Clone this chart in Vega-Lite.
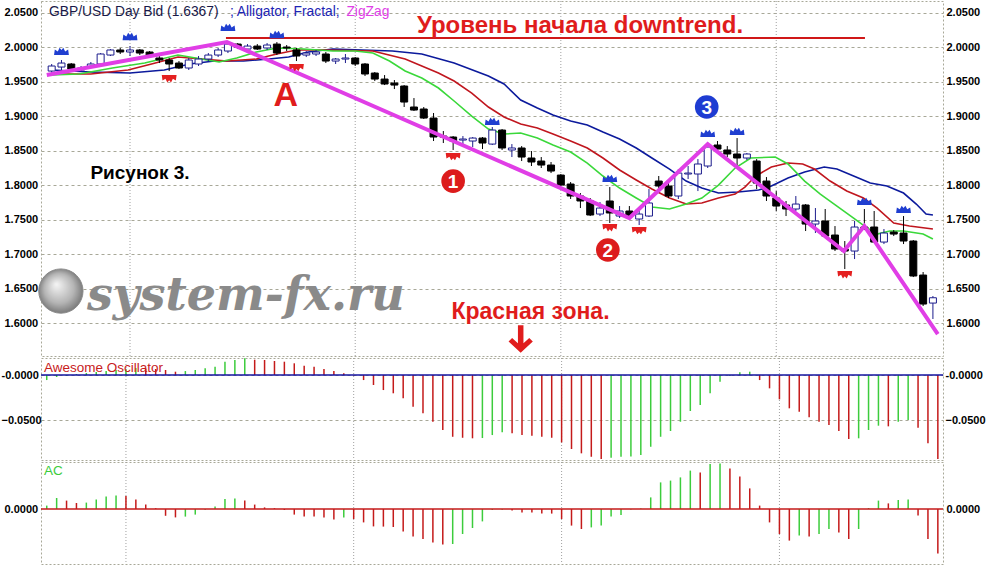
{
"$schema":"https://vega.github.io/schema/vega-lite/v6.json",
"padding":{"left":0,"top":0,"right":0,"bottom":0},
"background":"#ffffff",
"spacing":0,
"resolve":{"scale":{"color":"independent"}},
"config":{"view":{"stroke":"#a8a898","strokeDash":[2,2]},"font":"Liberation Sans","axis":{"labelFont":"Liberation Sans","labelFontWeight":"bold","labelFontSize":11,"labelColor":"#000000","ticks":false,"tickSize":0,"domain":false,"gridColor":"#a8a898","gridDash":[3,3],"title":null}},
"datasets":{
"months":[{"i":8},{"i":31},{"i":52},{"i":74}],
"candles":[
{"i":0,"o":1.9652,"h":1.9754,"l":1.9623,"c":1.9725},
{"i":1,"o":1.9710,"h":1.9812,"l":1.9652,"c":1.9768},
{"i":2,"o":1.9754,"h":1.9768,"l":1.9667,"c":1.9681},
{"i":3,"o":1.9667,"h":1.9725,"l":1.9638,"c":1.9696},
{"i":4,"o":1.9710,"h":1.9783,"l":1.9696,"c":1.9754},
{"i":5,"o":1.9754,"h":1.9913,"l":1.9739,"c":1.9899},
{"i":6,"o":1.9884,"h":1.9971,"l":1.9870,"c":1.9957},
{"i":7,"o":1.9957,"h":1.9986,"l":1.9899,"c":1.9928},
{"i":8,"o":1.9928,"h":2.0014,"l":1.9870,"c":1.9957},
{"i":9,"o":1.9957,"h":1.9971,"l":1.9884,"c":1.9913},
{"i":10,"o":1.9928,"h":1.9942,"l":1.9841,"c":1.9870},
{"i":11,"o":1.9841,"h":1.9870,"l":1.9768,"c":1.9812},
{"i":12,"o":1.9812,"h":1.9841,"l":1.9652,"c":1.9754},
{"i":13,"o":1.9768,"h":1.9797,"l":1.9681,"c":1.9696},
{"i":14,"o":1.9696,"h":1.9841,"l":1.9667,"c":1.9812},
{"i":15,"o":1.9754,"h":1.9870,"l":1.9725,"c":1.9826},
{"i":16,"o":1.9826,"h":1.9913,"l":1.9797,"c":1.9884},
{"i":17,"o":1.9884,"h":1.9986,"l":1.9855,"c":1.9957},
{"i":18,"o":1.9942,"h":2.0072,"l":1.9913,"c":2.0043},
{"i":19,"o":2.0043,"h":2.0058,"l":1.9971,"c":2.0000},
{"i":20,"o":1.9971,"h":2.0043,"l":1.9942,"c":2.0014},
{"i":21,"o":2.0014,"h":2.0043,"l":1.9957,"c":1.9971},
{"i":22,"o":1.9986,"h":2.0058,"l":1.9957,"c":2.0029},
{"i":23,"o":2.0043,"h":2.0072,"l":1.9884,"c":1.9913},
{"i":24,"o":2.0000,"h":2.0029,"l":1.9942,"c":1.9986},
{"i":25,"o":1.9957,"h":1.9986,"l":1.9797,"c":1.9870},
{"i":26,"o":1.9884,"h":1.9942,"l":1.9855,"c":1.9913},
{"i":27,"o":1.9899,"h":1.9957,"l":1.9870,"c":1.9928},
{"i":28,"o":1.9899,"h":1.9928,"l":1.9768,"c":1.9797},
{"i":29,"o":1.9797,"h":1.9841,"l":1.9754,"c":1.9826},
{"i":30,"o":1.9826,"h":1.9899,"l":1.9768,"c":1.9841},
{"i":31,"o":1.9841,"h":1.9855,"l":1.9725,"c":1.9754},
{"i":32,"o":1.9754,"h":1.9768,"l":1.9580,"c":1.9609},
{"i":33,"o":1.9623,"h":1.9638,"l":1.9507,"c":1.9536},
{"i":34,"o":1.9536,"h":1.9594,"l":1.9449,"c":1.9464},
{"i":35,"o":1.9478,"h":1.9522,"l":1.9391,"c":1.9449},
{"i":36,"o":1.9435,"h":1.9449,"l":1.9131,"c":1.9203},
{"i":37,"o":1.9131,"h":1.9261,"l":1.9073,"c":1.9087},
{"i":38,"o":1.9102,"h":1.9131,"l":1.8957,"c":1.8971},
{"i":39,"o":1.8971,"h":1.9044,"l":1.8638,"c":1.8696},
{"i":40,"o":1.8710,"h":1.8783,"l":1.8609,"c":1.8696},
{"i":41,"o":1.8696,"h":1.8710,"l":1.8508,"c":1.8638},
{"i":42,"o":1.8652,"h":1.8710,"l":1.8594,"c":1.8667},
{"i":43,"o":1.8638,"h":1.8696,"l":1.8551,"c":1.8681},
{"i":44,"o":1.8681,"h":1.8696,"l":1.8522,"c":1.8609},
{"i":45,"o":1.8594,"h":1.8841,"l":1.8580,"c":1.8797},
{"i":46,"o":1.8797,"h":1.8812,"l":1.8508,"c":1.8537},
{"i":47,"o":1.8508,"h":1.8594,"l":1.8406,"c":1.8537},
{"i":48,"o":1.8537,"h":1.8565,"l":1.8348,"c":1.8406},
{"i":49,"o":1.8392,"h":1.8493,"l":1.8276,"c":1.8334},
{"i":50,"o":1.8348,"h":1.8406,"l":1.8247,"c":1.8290},
{"i":51,"o":1.8290,"h":1.8334,"l":1.8174,"c":1.8203},
{"i":52,"o":1.8145,"h":1.8160,"l":1.7986,"c":1.8000},
{"i":53,"o":1.8015,"h":1.8044,"l":1.7798,"c":1.7841},
{"i":54,"o":1.7841,"h":1.7884,"l":1.7667,"c":1.7769},
{"i":55,"o":1.7769,"h":1.7812,"l":1.7551,"c":1.7566},
{"i":56,"o":1.7580,"h":1.7754,"l":1.7551,"c":1.7667},
{"i":57,"o":1.7769,"h":1.7971,"l":1.7450,"c":1.7595},
{"i":58,"o":1.7551,"h":1.7696,"l":1.7522,"c":1.7624},
{"i":59,"o":1.7624,"h":1.7696,"l":1.7508,"c":1.7551},
{"i":60,"o":1.7508,"h":1.7624,"l":1.7421,"c":1.7580},
{"i":61,"o":1.7551,"h":1.7942,"l":1.7537,"c":1.7740},
{"i":62,"o":1.8058,"h":1.8131,"l":1.7884,"c":1.7986},
{"i":63,"o":1.7986,"h":1.8058,"l":1.7812,"c":1.7841},
{"i":64,"o":1.7841,"h":1.8232,"l":1.7798,"c":1.8174},
{"i":65,"o":1.8160,"h":1.8276,"l":1.8087,"c":1.8174},
{"i":66,"o":1.8160,"h":1.8377,"l":1.7913,"c":1.8305},
{"i":67,"o":1.8276,"h":1.8594,"l":1.8247,"c":1.8551},
{"i":68,"o":1.8580,"h":1.8638,"l":1.8464,"c":1.8522},
{"i":69,"o":1.8508,"h":1.8565,"l":1.8406,"c":1.8450},
{"i":70,"o":1.8450,"h":1.8681,"l":1.8276,"c":1.8392},
{"i":71,"o":1.8392,"h":1.8464,"l":1.8363,"c":1.8450},
{"i":72,"o":1.8348,"h":1.8377,"l":1.7942,"c":1.8029},
{"i":73,"o":1.8058,"h":1.8116,"l":1.7769,"c":1.7841},
{"i":74,"o":1.7812,"h":1.7913,"l":1.7624,"c":1.7696},
{"i":75,"o":1.7711,"h":1.7769,"l":1.7551,"c":1.7653},
{"i":76,"o":1.7653,"h":1.7841,"l":1.7624,"c":1.7725},
{"i":77,"o":1.7711,"h":1.7725,"l":1.7334,"c":1.7435},
{"i":78,"o":1.7435,"h":1.7667,"l":1.7305,"c":1.7479},
{"i":79,"o":1.7479,"h":1.7653,"l":1.7232,"c":1.7261},
{"i":80,"o":1.7276,"h":1.7406,"l":1.7044,"c":1.7073},
{"i":81,"o":1.7073,"h":1.7189,"l":1.6783,"c":1.7044},
{"i":82,"o":1.7044,"h":1.7479,"l":1.6928,"c":1.7392},
{"i":83,"o":1.7392,"h":1.7653,"l":1.7348,"c":1.7377},
{"i":84,"o":1.7392,"h":1.7624,"l":1.7160,"c":1.7174},
{"i":85,"o":1.7174,"h":1.7363,"l":1.7145,"c":1.7305},
{"i":86,"o":1.7319,"h":1.7348,"l":1.7261,"c":1.7290},
{"i":87,"o":1.7305,"h":1.7551,"l":1.7145,"c":1.7189},
{"i":88,"o":1.7189,"h":1.7203,"l":1.6667,"c":1.6682},
{"i":89,"o":1.6696,"h":1.6740,"l":1.6247,"c":1.6276},
{"i":90,"o":1.6290,"h":1.6392,"l":1.6059,"c":1.6367}
],
"gator":[
{"line":"jaw","i":0,"p":1.9667},{"line":"jaw","i":4,"p":1.9638},{"line":"jaw","i":8,"p":1.9623},{"line":"jaw","i":11.5,"p":1.9667},{"line":"jaw","i":14.1,"p":1.9754},{"line":"jaw","i":16.6,"p":1.9797},{"line":"jaw","i":19.6,"p":1.9797},{"line":"jaw","i":22.2,"p":1.9826},{"line":"jaw","i":24.2,"p":1.9855},{"line":"jaw","i":26.2,"p":1.9928},{"line":"jaw","i":28.7,"p":1.9971},{"line":"jaw","i":31.7,"p":1.9957},{"line":"jaw","i":34.8,"p":1.9942},{"line":"jaw","i":37.8,"p":1.9899},{"line":"jaw","i":41.1,"p":1.9768},{"line":"jaw","i":44.6,"p":1.9580},{"line":"jaw","i":46.2,"p":1.9464},{"line":"jaw","i":47.9,"p":1.9232},{"line":"jaw","i":49.6,"p":1.9116},{"line":"jaw","i":51.2,"p":1.9015},{"line":"jaw","i":53.0,"p":1.8928},{"line":"jaw","i":54.7,"p":1.8870},{"line":"jaw","i":56.3,"p":1.8768},{"line":"jaw","i":58.0,"p":1.8667},{"line":"jaw","i":59.7,"p":1.8537},{"line":"jaw","i":61.3,"p":1.8392},{"line":"jaw","i":63.1,"p":1.8232},{"line":"jaw","i":64.8,"p":1.8058},{"line":"jaw","i":66.4,"p":1.7957},{"line":"jaw","i":68.1,"p":1.7884},{"line":"jaw","i":70.1,"p":1.7899},{"line":"jaw","i":72.2,"p":1.7928},{"line":"jaw","i":73.5,"p":1.7986},{"line":"jaw","i":75.2,"p":1.8102},{"line":"jaw","i":76.9,"p":1.8189},{"line":"jaw","i":78.9,"p":1.8261},{"line":"jaw","i":80.2,"p":1.8232},{"line":"jaw","i":81.9,"p":1.8131},{"line":"jaw","i":83.6,"p":1.8029},{"line":"jaw","i":85.3,"p":1.7986},{"line":"jaw","i":87.0,"p":1.7884},{"line":"jaw","i":88.3,"p":1.7725},{"line":"jaw","i":89.3,"p":1.7580},{"line":"jaw","i":90.0,"p":1.7566},
{"line":"teeth","i":0,"p":1.9609},{"line":"teeth","i":4,"p":1.9609},{"line":"teeth","i":7.8,"p":1.9667},{"line":"teeth","i":10.2,"p":1.9754},{"line":"teeth","i":12.9,"p":1.9855},{"line":"teeth","i":15.3,"p":1.9826},{"line":"teeth","i":17.9,"p":1.9797},{"line":"teeth","i":20.9,"p":1.9826},{"line":"teeth","i":23.0,"p":1.9899},{"line":"teeth","i":25.0,"p":1.9957},{"line":"teeth","i":27.7,"p":1.9957},{"line":"teeth","i":32.8,"p":1.9942},{"line":"teeth","i":36.1,"p":1.9826},{"line":"teeth","i":37.8,"p":1.9725},{"line":"teeth","i":39.5,"p":1.9623},{"line":"teeth","i":41.1,"p":1.9507},{"line":"teeth","i":42.9,"p":1.9333},{"line":"teeth","i":44.6,"p":1.9131},{"line":"teeth","i":46.2,"p":1.8986},{"line":"teeth","i":47.9,"p":1.8884},{"line":"teeth","i":49.6,"p":1.8826},{"line":"teeth","i":51.2,"p":1.8739},{"line":"teeth","i":53.0,"p":1.8638},{"line":"teeth","i":54.7,"p":1.8537},{"line":"teeth","i":56.3,"p":1.8392},{"line":"teeth","i":58.0,"p":1.8218},{"line":"teeth","i":59.7,"p":1.8073},{"line":"teeth","i":61.3,"p":1.7942},{"line":"teeth","i":63.1,"p":1.7812},{"line":"teeth","i":64.8,"p":1.7725},{"line":"teeth","i":66.4,"p":1.7740},{"line":"teeth","i":68.1,"p":1.7812},{"line":"teeth","i":69.8,"p":1.7870},{"line":"teeth","i":70.8,"p":1.7971},{"line":"teeth","i":71.9,"p":1.8131},{"line":"teeth","i":73.5,"p":1.8261},{"line":"teeth","i":75.2,"p":1.8319},{"line":"teeth","i":76.7,"p":1.8305},{"line":"teeth","i":77.9,"p":1.8232},{"line":"teeth","i":79.5,"p":1.8058},{"line":"teeth","i":81.2,"p":1.7913},{"line":"teeth","i":82.9,"p":1.7812},{"line":"teeth","i":84.3,"p":1.7667},{"line":"teeth","i":86.0,"p":1.7450},{"line":"teeth","i":87.6,"p":1.7406},{"line":"teeth","i":90.0,"p":1.7363},
{"line":"lips","i":0,"p":1.9594},{"line":"lips","i":2.8,"p":1.9609},{"line":"lips","i":6.2,"p":1.9696},{"line":"lips","i":9.5,"p":1.9768},{"line":"lips","i":12.9,"p":1.9884},{"line":"lips","i":15.3,"p":1.9826},{"line":"lips","i":17.1,"p":1.9783},{"line":"lips","i":18.9,"p":1.9841},{"line":"lips","i":20.9,"p":1.9928},{"line":"lips","i":23.0,"p":1.9986},{"line":"lips","i":25.7,"p":1.9971},{"line":"lips","i":28.7,"p":1.9942},{"line":"lips","i":31.0,"p":1.9942},{"line":"lips","i":32.8,"p":1.9913},{"line":"lips","i":34.5,"p":1.9797},{"line":"lips","i":36.1,"p":1.9652},{"line":"lips","i":37.8,"p":1.9551},{"line":"lips","i":39.5,"p":1.9406},{"line":"lips","i":41.1,"p":1.9218},{"line":"lips","i":42.9,"p":1.9000},{"line":"lips","i":44.6,"p":1.8812},{"line":"lips","i":46.2,"p":1.8739},{"line":"lips","i":47.9,"p":1.8754},{"line":"lips","i":49.6,"p":1.8681},{"line":"lips","i":51.2,"p":1.8580},{"line":"lips","i":53.0,"p":1.8479},{"line":"lips","i":54.7,"p":1.8319},{"line":"lips","i":56.3,"p":1.8131},{"line":"lips","i":58.0,"p":1.7957},{"line":"lips","i":59.7,"p":1.7812},{"line":"lips","i":61.3,"p":1.7682},{"line":"lips","i":63.1,"p":1.7653},{"line":"lips","i":64.8,"p":1.7725},{"line":"lips","i":66.4,"p":1.7812},{"line":"lips","i":68.1,"p":1.8000},{"line":"lips","i":69.8,"p":1.8247},{"line":"lips","i":71.4,"p":1.8392},{"line":"lips","i":73.9,"p":1.8406},{"line":"lips","i":75.2,"p":1.8305},{"line":"lips","i":76.9,"p":1.8058},{"line":"lips","i":78.5,"p":1.7870},{"line":"lips","i":80.2,"p":1.7696},{"line":"lips","i":81.9,"p":1.7522},{"line":"lips","i":83.3,"p":1.7377},{"line":"lips","i":84.3,"p":1.7290},{"line":"lips","i":85.6,"p":1.7334},{"line":"lips","i":87.0,"p":1.7334},{"line":"lips","i":89.0,"p":1.7290},{"line":"lips","i":90.0,"p":1.7218}
],
"zigzag":[{"i":-0.5,"p":1.9594},{"i":17.9,"p":2.0072},{"i":59.0,"p":1.7522},{"i":67.0,"p":1.8594},{"i":80.9,"p":1.7044},{"i":83.0,"p":1.7406},{"i":90.5,"p":1.5841}],
"fractals":[
{"t":"up","i":1,"p":1.9942},{"t":"up","i":8,"p":2.0159},{"t":"up","i":18,"p":2.0290},{"t":"up","i":23,"p":2.0188},{"t":"up","i":45,"p":1.8928},{"t":"up","i":57,"p":1.8102},{"t":"up","i":67,"p":1.8754},{"t":"up","i":70,"p":1.8783},{"t":"up","i":83,"p":1.7769},{"t":"up","i":87,"p":1.7653},
{"t":"down","i":12,"p":1.9536},{"t":"down","i":25,"p":1.9696},{"t":"down","i":41,"p":1.8406},{"t":"down","i":57,"p":1.7377},{"t":"down","i":60,"p":1.7334},{"t":"down","i":81,"p":1.6696}
],
"badges":[{"n":"1","i":41.0,"p":1.8058},{"n":"2","i":56.8,"p":1.7059},{"n":"3","i":66.9,"p":1.9131}],
"ao":[
{"i":0,"v":-0.0056,"d":"up"},{"i":1,"v":-0.0022,"d":"up"},{"i":2,"v":-0.0011,"d":"up"},{"i":3,"v":0.0011,"d":"up"},{"i":4,"v":0.0022,"d":"up"},{"i":5,"v":0.0033,"d":"up"},{"i":6,"v":0.0044,"d":"up"},{"i":7,"v":0.0056,"d":"up"},{"i":8,"v":0.0067,"d":"up"},{"i":9,"v":0.0078,"d":"up"},
{"i":10,"v":0.0072,"d":"down"},{"i":11,"v":0.0067,"d":"down"},{"i":12,"v":0.0056,"d":"down"},{"i":13,"v":0.0037,"d":"down"},{"i":14,"v":0.0044,"d":"up"},{"i":15,"v":0.0056,"d":"up"},{"i":16,"v":0.0074,"d":"up"},{"i":17,"v":0.0092,"d":"up"},{"i":18,"v":0.0148,"d":"up"},{"i":19,"v":0.0167,"d":"up"},
{"i":20,"v":0.0186,"d":"up"},{"i":21,"v":0.0170,"d":"down"},{"i":22,"v":0.0167,"d":"down"},{"i":23,"v":0.0156,"d":"down"},{"i":24,"v":0.0148,"d":"down"},{"i":25,"v":0.0130,"d":"down"},{"i":26,"v":0.0103,"d":"down"},{"i":27,"v":0.0092,"d":"down"},{"i":28,"v":0.0067,"d":"down"},{"i":29,"v":0.0044,"d":"down"},
{"i":30,"v":0.0019,"d":"down"},{"i":31,"v":-0.0006,"d":"down"},{"i":32,"v":-0.0056,"d":"down"},{"i":33,"v":-0.0111,"d":"down"},{"i":34,"v":-0.0167,"d":"down"},{"i":35,"v":-0.0203,"d":"down"},{"i":36,"v":-0.0259,"d":"down"},{"i":37,"v":-0.0352,"d":"down"},{"i":38,"v":-0.0426,"d":"down"},{"i":39,"v":-0.0519,"d":"down"},
{"i":40,"v":-0.0611,"d":"down"},{"i":41,"v":-0.0686,"d":"down"},{"i":42,"v":-0.0697,"d":"down"},{"i":43,"v":-0.0703,"d":"down"},{"i":44,"v":-0.0700,"d":"up"},{"i":45,"v":-0.0667,"d":"up"},{"i":46,"v":-0.0637,"d":"up"},{"i":47,"v":-0.0648,"d":"down"},{"i":48,"v":-0.0667,"d":"down"},{"i":49,"v":-0.0674,"d":"down"},
{"i":50,"v":-0.0686,"d":"down"},{"i":51,"v":-0.0697,"d":"down"},{"i":52,"v":-0.0748,"d":"down"},{"i":53,"v":-0.0822,"d":"down"},{"i":54,"v":-0.0870,"d":"down"},{"i":55,"v":-0.0908,"d":"down"},{"i":56,"v":-0.0933,"d":"down"},{"i":57,"v":-0.0919,"d":"up"},{"i":58,"v":-0.0908,"d":"up"},{"i":59,"v":-0.0906,"d":"up"},
{"i":60,"v":-0.0889,"d":"up"},{"i":61,"v":-0.0797,"d":"up"},{"i":62,"v":-0.0686,"d":"up"},{"i":63,"v":-0.0622,"d":"up"},{"i":64,"v":-0.0519,"d":"up"},{"i":65,"v":-0.0400,"d":"up"},{"i":66,"v":-0.0333,"d":"up"},{"i":67,"v":-0.0203,"d":"up"},{"i":68,"v":-0.0074,"d":"up"},{"i":69,"v":-0.0011,"d":"up"},
{"i":70,"v":0.0030,"d":"up"},{"i":71,"v":0.0037,"d":"up"},{"i":72,"v":-0.0056,"d":"down"},{"i":73,"v":-0.0148,"d":"down"},{"i":74,"v":-0.0270,"d":"down"},{"i":75,"v":-0.0370,"d":"down"},{"i":76,"v":-0.0408,"d":"down"},{"i":77,"v":-0.0470,"d":"down"},{"i":78,"v":-0.0519,"d":"down"},{"i":79,"v":-0.0556,"d":"down"},
{"i":80,"v":-0.0622,"d":"down"},{"i":81,"v":-0.0711,"d":"down"},{"i":82,"v":-0.0703,"d":"up"},{"i":83,"v":-0.0611,"d":"up"},{"i":84,"v":-0.0563,"d":"up"},{"i":85,"v":-0.0570,"d":"down"},{"i":86,"v":-0.0519,"d":"up"},{"i":87,"v":-0.0500,"d":"up"},{"i":88,"v":-0.0586,"d":"down"},{"i":89,"v":-0.0759,"d":"down"},
{"i":90,"v":-0.0933,"d":"down"}
],
"ac":[
{"i":0,"v":0.0017,"d":"up"},{"i":1,"v":0.0055,"d":"up"},{"i":2,"v":0.0042,"d":"down"},{"i":3,"v":0.0030,"d":"down"},{"i":4,"v":0.0032,"d":"up"},{"i":5,"v":0.0047,"d":"up"},{"i":6,"v":0.0062,"d":"up"},{"i":7,"v":0.0067,"d":"up"},{"i":8,"v":0.0065,"d":"down"},{"i":9,"v":0.0047,"d":"down"},
{"i":10,"v":0.0022,"d":"down"},{"i":11,"v":0.0004,"d":"down"},{"i":12,"v":-0.0034,"d":"down"},{"i":13,"v":-0.0042,"d":"down"},{"i":14,"v":-0.0038,"d":"up"},{"i":15,"v":-0.0028,"d":"up"},{"i":16,"v":-0.0004,"d":"up"},{"i":17,"v":0.0012,"d":"up"},{"i":18,"v":0.0050,"d":"up"},{"i":19,"v":0.0052,"d":"up"},
{"i":20,"v":0.0042,"d":"down"},{"i":21,"v":0.0022,"d":"down"},{"i":22,"v":0.0008,"d":"down"},{"i":23,"v":0.0004,"d":"down"},{"i":24,"v":-0.0005,"d":"down"},{"i":25,"v":-0.0028,"d":"down"},{"i":26,"v":-0.0037,"d":"down"},{"i":27,"v":-0.0038,"d":"down"},{"i":28,"v":-0.0042,"d":"down"},{"i":29,"v":-0.0053,"d":"down"},
{"i":30,"v":-0.0042,"d":"up"},{"i":31,"v":-0.0050,"d":"down"},{"i":32,"v":-0.0067,"d":"down"},{"i":33,"v":-0.0087,"d":"down"},{"i":34,"v":-0.0088,"d":"down"},{"i":35,"v":-0.0090,"d":"down"},{"i":36,"v":-0.0113,"d":"down"},{"i":37,"v":-0.0138,"d":"down"},{"i":38,"v":-0.0150,"d":"down"},{"i":39,"v":-0.0167,"d":"down"},
{"i":40,"v":-0.0178,"d":"down"},{"i":41,"v":-0.0175,"d":"up"},{"i":42,"v":-0.0125,"d":"up"},{"i":43,"v":-0.0095,"d":"up"},{"i":44,"v":-0.0062,"d":"up"},{"i":45,"v":-0.0005,"d":"up"},{"i":46,"v":-0.0004,"d":"up"},{"i":47,"v":-0.0008,"d":"down"},{"i":48,"v":-0.0017,"d":"down"},{"i":49,"v":-0.0018,"d":"down"},
{"i":50,"v":-0.0022,"d":"down"},{"i":51,"v":-0.0023,"d":"down"},{"i":52,"v":-0.0050,"d":"down"},{"i":53,"v":-0.0083,"d":"down"},{"i":54,"v":-0.0100,"d":"down"},{"i":55,"v":-0.0092,"d":"up"},{"i":56,"v":-0.0083,"d":"up"},{"i":57,"v":-0.0038,"d":"up"},{"i":58,"v":-0.0030,"d":"up"},{"i":59,"v":-0.0003,"d":"up"},
{"i":60,"v":0.0002,"d":"up"},{"i":61,"v":0.0058,"d":"up"},{"i":62,"v":0.0133,"d":"up"},{"i":63,"v":0.0142,"d":"up"},{"i":64,"v":0.0158,"d":"up"},{"i":65,"v":0.0192,"d":"up"},{"i":66,"v":0.0183,"d":"down"},{"i":67,"v":0.0225,"d":"up"},{"i":68,"v":0.0228,"d":"up"},{"i":69,"v":0.0203,"d":"down"},
{"i":70,"v":0.0162,"d":"down"},{"i":71,"v":0.0103,"d":"down"},{"i":72,"v":0.0017,"d":"down"},{"i":73,"v":-0.0067,"d":"down"},{"i":74,"v":-0.0125,"d":"down"},{"i":75,"v":-0.0158,"d":"down"},{"i":76,"v":-0.0133,"d":"up"},{"i":77,"v":-0.0138,"d":"down"},{"i":78,"v":-0.0125,"d":"up"},{"i":79,"v":-0.0100,"d":"up"},
{"i":80,"v":-0.0117,"d":"down"},{"i":81,"v":-0.0150,"d":"down"},{"i":82,"v":-0.0100,"d":"up"},{"i":83,"v":0.0005,"d":"up"},{"i":84,"v":0.0042,"d":"up"},{"i":85,"v":0.0028,"d":"down"},{"i":86,"v":0.0045,"d":"up"},{"i":87,"v":0.0047,"d":"up"},{"i":88,"v":-0.0033,"d":"down"},{"i":89,"v":-0.0150,"d":"down"},
{"i":90,"v":-0.0222,"d":"down"}
]
},
"vconcat":[
{
"width":902,"height":355,
"resolve":{"axis":{"y":"independent"}},
"layer":[
{"data":{"name":"months"},"mark":{"type":"rule","color":"#a0a0a0","strokeDash":[1,2]},"encoding":{"x":{"field":"i","type":"quantitative","scale":{"domain":[-0.58,90.52],"nice":false,"zero":false},"axis":null}}},
{"data":{"values":[{"i":0.94,"p":1.6464}]},"mark":{"type":"point","shape":"circle","filled":true,"size":1960,"fill":{"gradient":"radial","x1":0.4,"y1":0.35,"r1":0.02,"x2":0.5,"y2":0.5,"r2":0.55,"stops":[{"offset":0,"color":"#f2f2f2"},{"offset":0.6,"color":"#b4b4b4"},{"offset":1,"color":"#6e6e6e"}]},"stroke":"#8a8a8a","strokeWidth":1,"opacity":1},"encoding":{"x":{"field":"i","type":"quantitative","scale":{"domain":[-0.58,90.52],"nice":false,"zero":false},"axis":null},"y":{"field":"p","type":"quantitative","scale":{"domain":[1.5523,2.0667],"nice":false,"zero":false},"axis":null}}},
{"data":{"values":[{"i":3.6,"p":1.6392,"t":"system-fx.ru"}]},"mark":{"type":"text","font":"DejaVu Serif","fontStyle":"italic","fontWeight":"bold","fontSize":46,"color":"#8a8a8a","align":"left","baseline":"middle"},"encoding":{"x":{"field":"i","type":"quantitative","scale":{"domain":[-0.58,90.52],"nice":false,"zero":false},"axis":null},"y":{"field":"p","type":"quantitative","scale":{"domain":[1.5523,2.0667],"nice":false,"zero":false},"axis":null},"text":{"field":"t"}}},
{"data":{"name":"gator"},"mark":{"type":"line","strokeWidth":1.6},"encoding":{"x":{"field":"i","type":"quantitative","scale":{"domain":[-0.58,90.52],"nice":false,"zero":false},"axis":null},"y":{"field":"p","type":"quantitative","scale":{"domain":[1.5523,2.0667],"nice":false,"zero":false},"axis":null},"color":{"field":"line","type":"nominal","scale":{"domain":["jaw","teeth","lips"],"range":["#0c1a9c","#c0161e","#3ad83a"]},"legend":null}}},
{"data":{"values":[{"i":17.8,"i2":83.06,"p":2.0130}]},"mark":{"type":"rule","color":"#d01818","strokeWidth":2},"encoding":{"x":{"field":"i","type":"quantitative","scale":{"domain":[-0.58,90.52],"nice":false,"zero":false},"axis":null},"x2":{"field":"i2"},"y":{"field":"p","type":"quantitative","scale":{"domain":[1.5523,2.0667],"nice":false,"zero":false},"axis":null}}},
{"data":{"name":"candles"},"mark":{"type":"rule","strokeWidth":1},"encoding":{"x":{"field":"i","type":"quantitative","scale":{"domain":[-0.58,90.52],"nice":false,"zero":false},"axis":null},"y":{"field":"l","type":"quantitative","scale":{"domain":[1.5523,2.0667],"nice":false,"zero":false},"axis":null},"y2":{"field":"h"},"color":{"condition":{"test":"datum.c >= datum.o","value":"#1c1c8c"},"value":"#000000"}}},
{"data":{"name":"candles"},"mark":{"type":"bar","size":7,"strokeWidth":1},"encoding":{"x":{"field":"i","type":"quantitative","scale":{"domain":[-0.58,90.52],"nice":false,"zero":false},"axis":null},"y":{"field":"o","type":"quantitative","scale":{"domain":[1.5523,2.0667],"nice":false,"zero":false},"axis":{"orient":"left","values":[1.6,1.65,1.7,1.75,1.8,1.85,1.9,1.95,2.0,2.05],"format":".4f","grid":true,"labelFont":"Liberation Sans","labelAlign":"left","labelPadding":37}},"y2":{"field":"c"},"fill":{"condition":{"test":"datum.c >= datum.o","value":"#ffffff"},"value":"#000000"},"stroke":{"condition":{"test":"datum.c >= datum.o","value":"#1c1c8c"},"value":"#000000"}}},
{"data":{"name":"zigzag"},"mark":{"type":"line","color":"#e03ee6","strokeWidth":4},"encoding":{"x":{"field":"i","type":"quantitative","scale":{"domain":[-0.58,90.52],"nice":false,"zero":false},"axis":null},"y":{"field":"p","type":"quantitative","scale":{"domain":[1.5523,2.0667],"nice":false,"zero":false},"axis":null}}},
{"data":{"name":"fractals"},"transform":[{"filter":"datum.t == 'up'"}],"mark":{"type":"point","shape":"M-1,0.55 L-0.9,-0.2 L-0.5,0.05 L-0.25,-0.45 L0,-0.15 L0.25,-0.45 L0.5,0.05 L0.9,-0.2 L1,0.55 Z","filled":true,"size":220,"color":"#1f3ed0","opacity":1},"encoding":{"x":{"field":"i","type":"quantitative","scale":{"domain":[-0.58,90.52],"nice":false,"zero":false},"axis":null},"y":{"field":"p","type":"quantitative","scale":{"domain":[1.5523,2.0667],"nice":false,"zero":false},"axis":null}}},
{"data":{"name":"fractals"},"transform":[{"filter":"datum.t == 'down'"}],"mark":{"type":"point","shape":"M-1,-0.55 L-0.9,0.2 L-0.5,-0.05 L-0.25,0.45 L0,0.15 L0.25,0.45 L0.5,-0.05 L0.9,0.2 L1,-0.55 Z","filled":true,"size":220,"color":"#e42020","opacity":1},"encoding":{"x":{"field":"i","type":"quantitative","scale":{"domain":[-0.58,90.52],"nice":false,"zero":false},"axis":null},"y":{"field":"p","type":"quantitative","scale":{"domain":[1.5523,2.0667],"nice":false,"zero":false},"axis":null}}},
{"data":{"name":"badges"},"mark":{"type":"point","shape":"circle","filled":true,"size":560,"opacity":1},"encoding":{"x":{"field":"i","type":"quantitative","scale":{"domain":[-0.58,90.52],"nice":false,"zero":false},"axis":null},"y":{"field":"p","type":"quantitative","scale":{"domain":[1.5523,2.0667],"nice":false,"zero":false},"axis":null},"color":{"condition":{"test":"datum.n == '3'","value":"#1e3cd2"},"value":"#dc1c1c"}}},
{"data":{"name":"badges"},"mark":{"type":"text","font":"Liberation Sans","fontWeight":"bold","fontSize":19,"color":"#ffffff","align":"center","baseline":"middle","dy":1},"encoding":{"x":{"field":"i","type":"quantitative","scale":{"domain":[-0.58,90.52],"nice":false,"zero":false},"axis":null},"y":{"field":"p","type":"quantitative","scale":{"domain":[1.5523,2.0667],"nice":false,"zero":false},"axis":null},"text":{"field":"n"}}},
{"data":{"values":[{"i":-0.27,"p":2.0507,"t":"GBP/USD Day Bid (1.6367)"}]},"mark":{"type":"text","fontSize":13.8,"color":"#181848","align":"left","baseline":"middle"},"encoding":{"x":{"field":"i","type":"quantitative","scale":{"domain":[-0.58,90.52],"nice":false,"zero":false},"axis":null},"y":{"field":"p","type":"quantitative","scale":{"domain":[1.5523,2.0667],"nice":false,"zero":false},"axis":null},"text":{"field":"t"}}},
{"data":{"values":[{"i":18.2,"p":2.0507,"t":"; Alligator, Fractal;"}]},"mark":{"type":"text","fontSize":13.8,"color":"#1c24b4","align":"left","baseline":"middle"},"encoding":{"x":{"field":"i","type":"quantitative","scale":{"domain":[-0.58,90.52],"nice":false,"zero":false},"axis":null},"y":{"field":"p","type":"quantitative","scale":{"domain":[1.5523,2.0667],"nice":false,"zero":false},"axis":null},"text":{"field":"t"}}},
{"data":{"values":[{"i":30.1,"p":2.0507,"t":"ZigZag"}]},"mark":{"type":"text","fontSize":13.8,"color":"#e03ee6","align":"left","baseline":"middle"},"encoding":{"x":{"field":"i","type":"quantitative","scale":{"domain":[-0.58,90.52],"nice":false,"zero":false},"axis":null},"y":{"field":"p","type":"quantitative","scale":{"domain":[1.5523,2.0667],"nice":false,"zero":false},"axis":null},"text":{"field":"t"}}},
{"data":{"values":[{"i":53.96,"p":2.0304,"t":"Уровень начала downtrend."}]},"mark":{"type":"text","fontSize":24,"fontWeight":"bold","color":"#e01c1c","align":"center","baseline":"middle"},"encoding":{"x":{"field":"i","type":"quantitative","scale":{"domain":[-0.58,90.52],"nice":false,"zero":false},"axis":null},"y":{"field":"p","type":"quantitative","scale":{"domain":[1.5523,2.0667],"nice":false,"zero":false},"axis":null},"text":{"field":"t"}}},
{"data":{"values":[{"i":23.9,"p":1.9290,"t":"A"}]},"mark":{"type":"text","fontSize":34,"fontWeight":"bold","color":"#e01c1c","align":"center","baseline":"middle"},"encoding":{"x":{"field":"i","type":"quantitative","scale":{"domain":[-0.58,90.52],"nice":false,"zero":false},"axis":null},"y":{"field":"p","type":"quantitative","scale":{"domain":[1.5523,2.0667],"nice":false,"zero":false},"axis":null},"text":{"field":"t"}}},
{"data":{"values":[{"i":9.02,"p":1.8174,"t":"Рисунок 3."}]},"mark":{"type":"text","fontSize":19,"fontWeight":"bold","color":"#000000","align":"center","baseline":"middle"},"encoding":{"x":{"field":"i","type":"quantitative","scale":{"domain":[-0.58,90.52],"nice":false,"zero":false},"axis":null},"y":{"field":"p","type":"quantitative","scale":{"domain":[1.5523,2.0667],"nice":false,"zero":false},"axis":null},"text":{"field":"t"}}},
{"data":{"values":[{"i":48.9,"p":1.6160,"t":"Красная зона."}]},"mark":{"type":"text","fontSize":23,"fontWeight":"bold","color":"#e01c1c","align":"center","baseline":"middle"},"encoding":{"x":{"field":"i","type":"quantitative","scale":{"domain":[-0.58,90.52],"nice":false,"zero":false},"axis":null},"y":{"field":"p","type":"quantitative","scale":{"domain":[1.5523,2.0667],"nice":false,"zero":false},"axis":null},"text":{"field":"t"}}},
{"data":{"values":[{"i":47.9,"p":1.5769}]},"mark":{"type":"point","shape":"M-0.2,-1 L0.2,-1 L0.2,0.3 L0.62,-0.08 L0.88,0.18 L0,1 L-0.88,0.18 L-0.62,-0.08 L-0.2,0.3 Z","filled":true,"size":760,"color":"#e01c1c","opacity":1},"encoding":{"x":{"field":"i","type":"quantitative","scale":{"domain":[-0.58,90.52],"nice":false,"zero":false},"axis":null},"y":{"field":"p","type":"quantitative","scale":{"domain":[1.5523,2.0667],"nice":false,"zero":false},"axis":null}}},
{"data":{"values":[{"p":1.6},{"p":2.05}]},"mark":{"type":"rule","opacity":0},"encoding":{"y":{"field":"p","type":"quantitative","scale":{"domain":[1.5523,2.0667],"nice":false,"zero":false},"axis":{"orient":"right","values":[1.6,1.65,1.7,1.75,1.8,1.85,1.9,1.95,2.0,2.05],"format":".4f","grid":false,"labelFont":"Liberation Sans","labelPadding":3}}}}
]
},
{
"width":902,"height":102,
"resolve":{"axis":{"y":"independent"}},
"layer":[
{"data":{"name":"months"},"mark":{"type":"rule","color":"#a0a0a0","strokeDash":[1,2]},"encoding":{"x":{"field":"i","type":"quantitative","scale":{"domain":[-0.58,90.52],"nice":false,"zero":false},"axis":null}}},
{"data":{"name":"ao"},"mark":{"type":"rule","strokeWidth":1.5},"encoding":{"x":{"field":"i","type":"quantitative","scale":{"domain":[-0.58,90.52],"nice":false,"zero":false},"axis":null},"y":{"field":"v","type":"quantitative","scale":{"domain":[-0.0944,0.0189],"nice":false,"zero":false},"axis":{"orient":"left","values":[0,-0.05],"labelExpr":"datum.value == 0 ? '-0.0000' : format(datum.value, '.4f')","grid":true,"labelFont":"Liberation Sans","labelAlign":"left","labelPadding":40}},"y2":{"datum":0},"color":{"condition":{"test":"datum.d == 'up'","value":"#3ccc3c"},"value":"#c41a1a"}}},
{"data":{"values":[{"v":0}]},"mark":{"type":"rule","color":"#1414a0","strokeWidth":1.3},"encoding":{"y":{"field":"v","type":"quantitative","scale":{"domain":[-0.0944,0.0189],"nice":false,"zero":false},"axis":null}}},
{"data":{"values":[{"i":-0.27,"v":0.0078,"t":"Awesome Oscillator"}]},"mark":{"type":"text","fontSize":13.5,"color":"#c8201c","align":"left","baseline":"middle"},"encoding":{"x":{"field":"i","type":"quantitative","scale":{"domain":[-0.58,90.52],"nice":false,"zero":false},"axis":null},"y":{"field":"v","type":"quantitative","scale":{"domain":[-0.0944,0.0189],"nice":false,"zero":false},"axis":null},"text":{"field":"t"}}},
{"data":{"values":[{"v":0},{"v":-0.05}]},"mark":{"type":"rule","opacity":0},"encoding":{"y":{"field":"v","type":"quantitative","scale":{"domain":[-0.0944,0.0189],"nice":false,"zero":false},"axis":{"orient":"right","values":[0,-0.05],"labelExpr":"datum.value == 0 ? '-0.0000' : format(datum.value, '.4f')","grid":false,"labelFont":"Liberation Sans","labelPadding":2}}}}
]
},
{
"width":902,"height":102,
"resolve":{"axis":{"y":"independent"}},
"layer":[
{"data":{"name":"months"},"mark":{"type":"rule","color":"#a0a0a0","strokeDash":[1,2]},"encoding":{"x":{"field":"i","type":"quantitative","scale":{"domain":[-0.58,90.52],"nice":false,"zero":false},"axis":null}}},
{"data":{"name":"ac"},"mark":{"type":"rule","strokeWidth":1.5},"encoding":{"x":{"field":"i","type":"quantitative","scale":{"domain":[-0.58,90.52],"nice":false,"zero":false},"axis":{"orient":"bottom","values":[8,31,52,74],"labelExpr":"datum.value == 8 ? 'июл 2008' : datum.value == 31 ? 'авг 2008' : datum.value == 52 ? 'сен 2008' : 'окт 2008'","labelFontWeight":"normal","labelFontSize":12,"labelAlign":"left","labelOffset":2,"labelPadding":3,"grid":false}},"y":{"field":"v","type":"quantitative","scale":{"domain":[-0.0275,0.0235],"nice":false,"zero":false},"axis":{"orient":"left","values":[0],"format":".4f","grid":false,"labelFont":"Liberation Sans","labelAlign":"left","labelPadding":37}},"y2":{"datum":0},"color":{"condition":{"test":"datum.d == 'up'","value":"#3ccc3c"},"value":"#c41a1a"}}},
{"data":{"values":[{"v":0}]},"mark":{"type":"rule","color":"#c41a1a","strokeWidth":1.3},"encoding":{"y":{"field":"v","type":"quantitative","scale":{"domain":[-0.0275,0.0235],"nice":false,"zero":false},"axis":null}}},
{"data":{"values":[{"i":-0.27,"v":0.019,"t":"AC"}]},"mark":{"type":"text","fontSize":13.5,"color":"#3ccc3c","align":"left","baseline":"middle"},"encoding":{"x":{"field":"i","type":"quantitative","scale":{"domain":[-0.58,90.52],"nice":false,"zero":false},"axis":null},"y":{"field":"v","type":"quantitative","scale":{"domain":[-0.0275,0.0235],"nice":false,"zero":false},"axis":null},"text":{"field":"t"}}},
{"data":{"values":[{"v":0}]},"mark":{"type":"rule","opacity":0},"encoding":{"y":{"field":"v","type":"quantitative","scale":{"domain":[-0.0275,0.0235],"nice":false,"zero":false},"axis":{"orient":"right","values":[0],"format":".4f","grid":false,"labelFont":"Liberation Sans","labelPadding":3}}}}
]
}
]
}
